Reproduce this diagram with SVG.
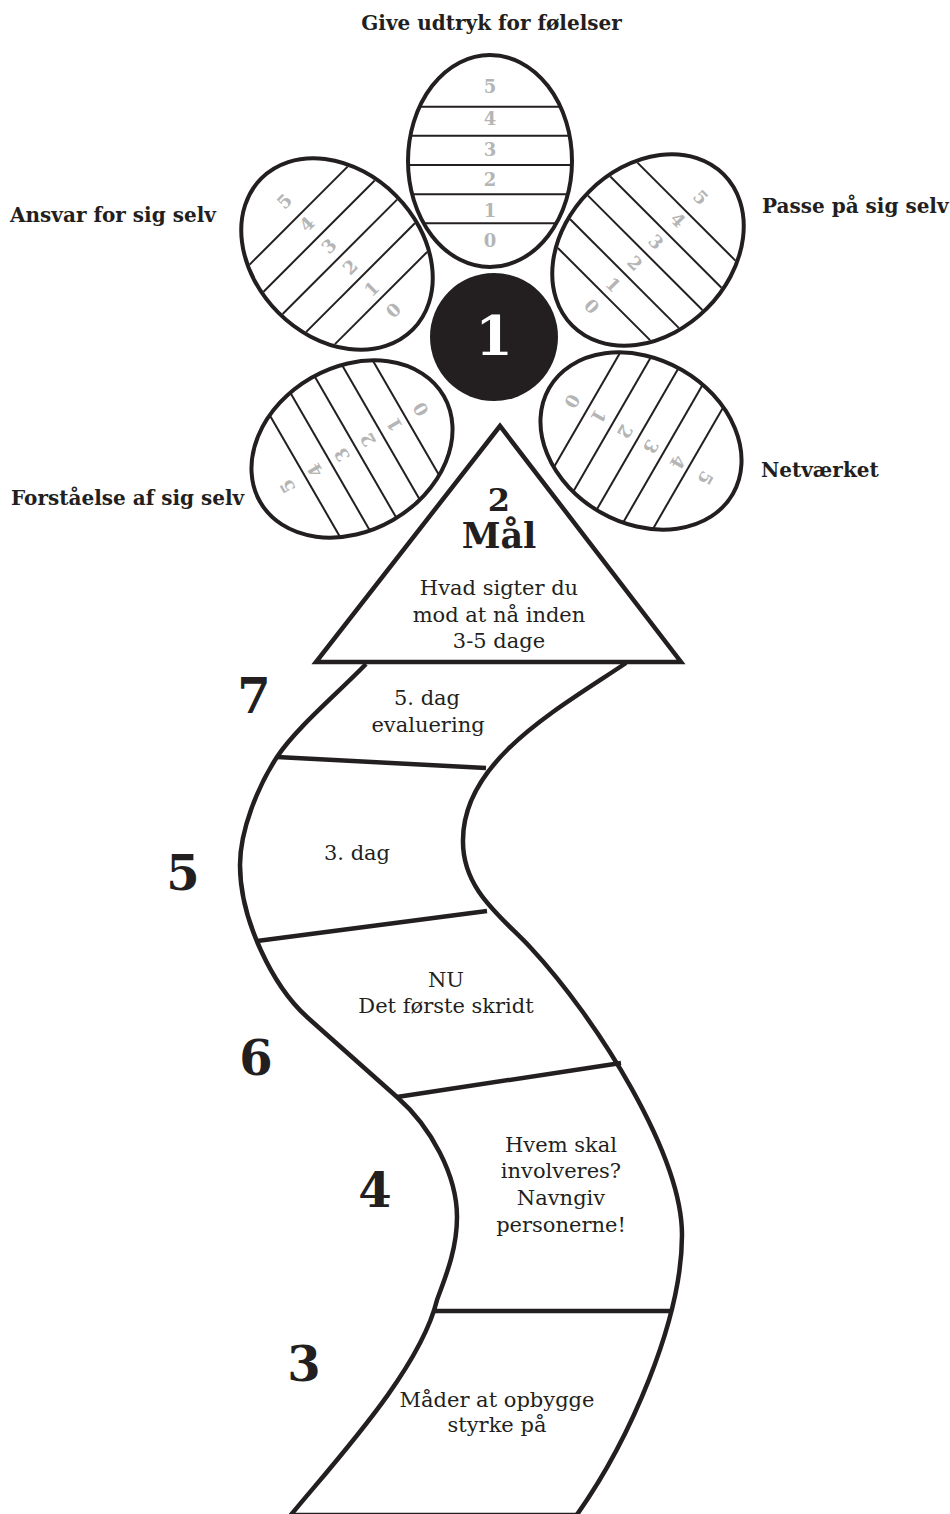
<svg xmlns="http://www.w3.org/2000/svg" width="950" height="1514" viewBox="0 0 950 1514">
<style>
.edge{fill:none;stroke:#231f20;stroke-width:4.5;stroke-linecap:butt}
.petal ellipse{fill:#fff;stroke:#231f20;stroke-width:4}
.petal line{stroke:#231f20;stroke-width:2}
.dg{font-family:"DejaVu Serif",serif;font-weight:bold;font-size:18px;fill:#b5b5b5;text-anchor:middle}
.lbl{font-family:"DejaVu Serif",serif;font-weight:bold;font-size:20px;fill:#231f20}
.txt{font-family:"DejaVu Serif",serif;font-size:21px;fill:#231f20;text-anchor:middle}
.big{font-family:"DejaVu Serif",serif;font-weight:bold;font-size:48px;fill:#231f20;text-anchor:middle}
</style>
<rect width="950" height="1514" fill="#fff"/>

<g id="connectors">
  <path class="edge" d="M366,664 C338,693 296,728 277,757 C258,786 240,830 240,865 C240,920 273.3,986.8 307,1017 L397,1097 C431,1127 457,1175 457,1217 C457,1250 445,1278 437,1300 C420,1370 336,1460 290,1516"/>
  <path class="edge" d="M626,663 C559.6,707.8 463,760 463,840 C462,890 502.8,917.8 530,947 C598,1020 682,1155 682,1235 C682,1320 630,1440 576,1516"/>
  <line class="edge" x1="277" y1="757" x2="486" y2="768"/>
  <line class="edge" x1="257" y1="941" x2="487" y2="911"/>
  <line class="edge" x1="397" y1="1097" x2="621" y2="1063"/>
  <line class="edge" x1="433" y1="1311" x2="671" y2="1311"/>
  <line class="edge" x1="290" y1="1515" x2="577" y2="1515"/>
</g>

<g id="petal-top" class="petal" transform="translate(490,161)">
  <ellipse cx="0" cy="0" rx="82" ry="106"/>
  <line x1="-69.3" y1="-54.3" x2="69.3" y2="-54.3"/>
  <line x1="-78.6" y1="-25.3" x2="78.6" y2="-25.3"/>
  <line x1="-80.9" y1="4" x2="80.9" y2="4"/>
  <line x1="-76.8" y1="33.3" x2="76.8" y2="33.3"/>
  <line x1="-65.2" y1="62.3" x2="65.2" y2="62.3"/>
  <text class="dg" x="0" y="-68">5</text><text class="dg" x="0" y="-36">4</text><text class="dg" x="0" y="-5">3</text><text class="dg" x="0" y="25">2</text><text class="dg" x="0" y="55.5">1</text><text class="dg" x="0" y="86">0</text>
</g>
<g id="petal-upper-left" class="petal" transform="translate(337,254) rotate(-45)">
  <ellipse cx="0" cy="0" rx="83" ry="107"/>
  <line x1="-69.3" y1="-54.3" x2="69.3" y2="-54.3"/>
  <line x1="-78.6" y1="-25.3" x2="78.6" y2="-25.3"/>
  <line x1="-80.9" y1="4" x2="80.9" y2="4"/>
  <line x1="-76.8" y1="33.3" x2="76.8" y2="33.3"/>
  <line x1="-65.2" y1="62.3" x2="65.2" y2="62.3"/>
  <text class="dg" x="0" y="-68">5</text><text class="dg" x="0" y="-36">4</text><text class="dg" x="0" y="-5">3</text><text class="dg" x="0" y="25">2</text><text class="dg" x="0" y="55.5">1</text><text class="dg" x="0" y="86">0</text>
</g>
<g id="petal-upper-right" class="petal" transform="translate(648,250) rotate(45)">
  <ellipse cx="0" cy="0" rx="83" ry="107"/>
  <line x1="-69.3" y1="-54.3" x2="69.3" y2="-54.3"/>
  <line x1="-78.6" y1="-25.3" x2="78.6" y2="-25.3"/>
  <line x1="-80.9" y1="4" x2="80.9" y2="4"/>
  <line x1="-76.8" y1="33.3" x2="76.8" y2="33.3"/>
  <line x1="-65.2" y1="62.3" x2="65.2" y2="62.3"/>
  <text class="dg" x="0" y="-68">5</text><text class="dg" x="0" y="-36">4</text><text class="dg" x="0" y="-5">3</text><text class="dg" x="0" y="25">2</text><text class="dg" x="0" y="55.5">1</text><text class="dg" x="0" y="86">0</text>
</g>
<g id="petal-lower-left" class="petal" transform="translate(352,449) rotate(-120)">
  <ellipse cx="0" cy="0" rx="82" ry="106"/>
  <line x1="-69.3" y1="-54.3" x2="69.3" y2="-54.3"/>
  <line x1="-78.6" y1="-25.3" x2="78.6" y2="-25.3"/>
  <line x1="-80.9" y1="4" x2="80.9" y2="4"/>
  <line x1="-76.8" y1="33.3" x2="76.8" y2="33.3"/>
  <line x1="-65.2" y1="62.3" x2="65.2" y2="62.3"/>
  <text class="dg" x="0" y="-68">5</text><text class="dg" x="0" y="-36">4</text><text class="dg" x="0" y="-5">3</text><text class="dg" x="0" y="25">2</text><text class="dg" x="0" y="55.5">1</text><text class="dg" x="0" y="86">0</text>
</g>
<g id="petal-lower-right" class="petal" transform="translate(641,441) rotate(120)">
  <ellipse cx="0" cy="0" rx="82" ry="106"/>
  <line x1="-69.3" y1="-54.3" x2="69.3" y2="-54.3"/>
  <line x1="-78.6" y1="-25.3" x2="78.6" y2="-25.3"/>
  <line x1="-80.9" y1="4" x2="80.9" y2="4"/>
  <line x1="-76.8" y1="33.3" x2="76.8" y2="33.3"/>
  <line x1="-65.2" y1="62.3" x2="65.2" y2="62.3"/>
  <text class="dg" x="0" y="-68">5</text><text class="dg" x="0" y="-36">4</text><text class="dg" x="0" y="-5">3</text><text class="dg" x="0" y="25">2</text><text class="dg" x="0" y="55.5">1</text><text class="dg" x="0" y="86">0</text>
</g>

<g id="center">
  <circle cx="494" cy="337" r="64" fill="#231f20"/>
  <text class="big" x="494" y="355" style="fill:#fff;font-size:54px">1</text>
</g>

<g id="goal">
  <polygon points="500,426 316,662 681,662" fill="#fff" stroke="#231f20" stroke-width="4.5" stroke-linejoin="miter"/>
  <text class="big" x="499" y="511" style="font-size:32px">2</text>
  <text class="big" x="499" y="548" style="font-size:35px">Mål</text>
  <text class="txt" x="499" y="595">Hvad sigter du</text>
  <text class="txt" x="499" y="621.5">mod at nå inden</text>
  <text class="txt" x="499" y="648">3-5 dage</text>
</g>

<g id="labels">
  <text class="lbl" x="491.5" y="30" text-anchor="middle">Give udtryk for følelser</text>
  <text class="lbl" x="10" y="222">Ansvar for sig selv</text>
  <text class="lbl" x="762" y="213">Passe på sig selv</text>
  <text class="lbl" x="761" y="477">Netværket</text>
  <text class="lbl" x="11" y="505">Forståelse af sig selv</text>
</g>

<g id="step-7">
  <text class="big" x="254" y="713">7</text>
  <text class="txt" x="427" y="705">5. dag</text>
  <text class="txt" x="428" y="731.5">evaluering</text>
</g>
<g id="step-5">
  <text class="big" x="183" y="890">5</text>
  <text class="txt" x="357" y="860">3. dag</text>
</g>
<g id="step-6">
  <text class="big" x="256" y="1075">6</text>
  <text class="txt" x="446" y="987">NU</text>
  <text class="txt" x="446" y="1013">Det første skridt</text>
</g>
<g id="step-4">
  <text class="big" x="375" y="1206.5">4</text>
  <text class="txt" x="561" y="1151.5">Hvem skal</text>
  <text class="txt" x="561" y="1178">involveres?</text>
  <text class="txt" x="561" y="1205">Navngiv</text>
  <text class="txt" x="561" y="1231.5">personerne!</text>
</g>
<g id="step-3">
  <text class="big" x="304" y="1381">3</text>
  <text class="txt" x="497" y="1406.5">Måder at opbygge</text>
  <text class="txt" x="497" y="1431.5">styrke på</text>
</g>
</svg>
